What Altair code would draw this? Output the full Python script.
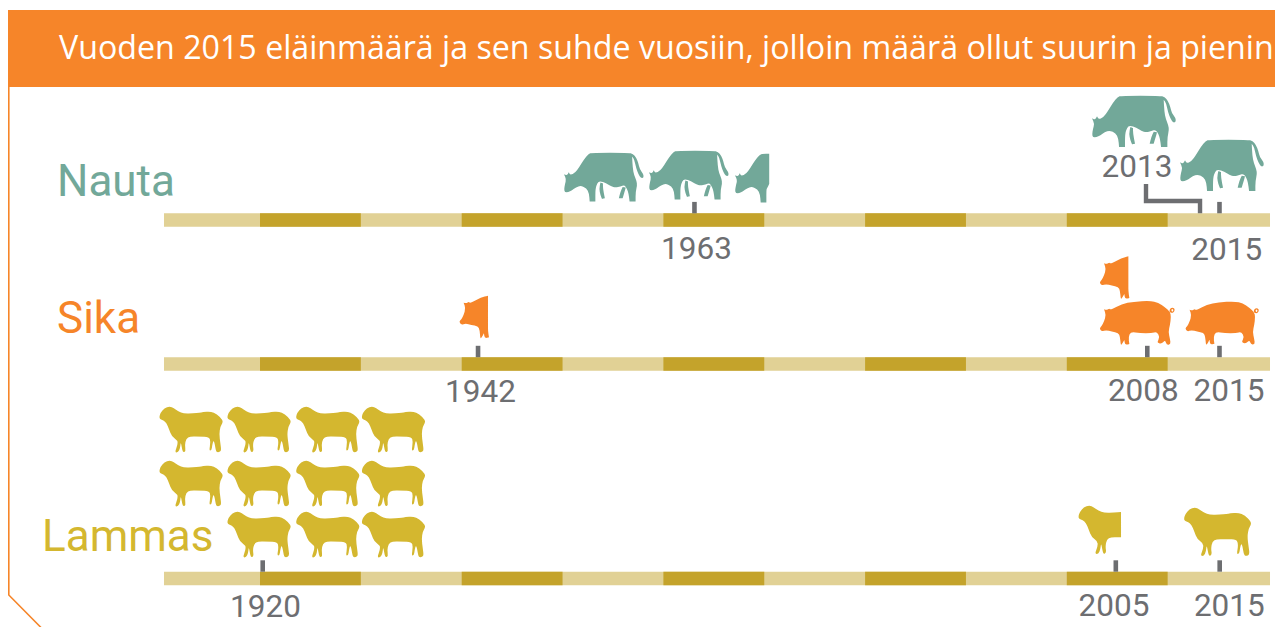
import altair as alt
import pandas as pd

# ---- values ----
TITLE = "Vuoden 2015 eläinmäärä ja sen suhde vuosiin, jolloin määrä ollut suurin ja pienin"
SPECIES = ["Nauta", "Sika", "Lammas"]
NAUTA_YEARS = ["1963", "2013", "2015"]
NAUTA_COUNTS = [2.5, 1, 1]
SIKA_YEARS = ["1942", "2008", "2015"]
SIKA_COUNTS = [0.5, 1.5, 1]
LAMMAS_YEARS = ["1920", "2005", "2015"]
LAMMAS_COUNTS = [11, 0.5, 1]
DECADES_DARK = [1920, 1940, 1960, 1980, 2000]
TIMELINE_START, TIMELINE_END = 1910.48, 2020.15

# ---- layout and style ----
PX_PER_YEAR = 10.085
def yr(px):
    return 1920 + (px - 260) / PX_PER_YEAR

X = alt.Scale(domain=[yr(8), yr(1275)], range=[0, 1267], nice=False, zero=False)
Y = alt.Scale(domain=[8, 627], range=[0, 619], nice=False, zero=False)
FONT = "Roboto"
GRAY = "#6d6e71"
TEAL, ORANGE, GOLD = "#72a899", "#f68529", "#d4b72f"
BAND_DARK, BAND_LIGHT = "#c4a32b", "#e1d195"


def poly(points, cx, cy):
    """Smooth closed outline through the midpoints; a point given twice stays a sharp corner."""
    p = [((x - cx) / 3, (y - cy) / 3) for x, y in points]
    n = len(p)
    mid = lambda a, b: ((a[0] + b[0]) / 2, (a[1] + b[1]) / 2)
    s = mid(p[-1], p[0])
    out = f"M{s[0]:.2f},{s[1]:.2f}"
    for i in range(n):
        m = mid(p[i], p[(i + 1) % n])
        out += f"Q{p[i][0]:.2f},{p[i][1]:.2f},{m[0]:.2f},{m[1]:.2f}"
    return out + "Z"

C2 = (162, 94)
COW_HEAD = [(37,133),(40,115),(44,100),(37,84),(37,84),(46,88),(52,78),(52,78),(57,87),(72,80),(85,62),(100,37),(114,20),(125,16)]
COW_FRONT = [(136,130),(136,170),(136,170),(118,170),(118,170),(116,145),(108,128),(90,120),(75,125),(62,135),(50,141),(40,141)]
COW_REST = [(240,16),(255,20),(265,32),(272,50),(276,68),(287,82),(289,95),(280,97),(272,84),(265,65),(259,38),(252,28),(252,28),
            (254,65),(258,85),(266,105),(268,120),(263,140),(263,170),(263,170),(244,170),(244,170),(241,145),(236,130),(228,118),(215,122),
            (200,126),(185,122),(170,112),(150,105),(142,112)]
COW_LEG1 = [(152,110),(152,110),(148,130),(152,150),(157,162),(157,162),(166,160),(166,160),(160,130),(160,113),(160,113)]
COW_LEG2 = [(222,124),(222,124),(232,126),(232,126),(228,140),(222,160),(222,160),(210,160),(210,160),(215,140)]
COW = poly(COW_HEAD + COW_REST + COW_FRONT, *C2) + poly(COW_LEG1, *C2) + poly(COW_LEG2, *C2)
COW_HALF = poly(COW_HEAD + [(145,16),(145,16),(145,112),(145,112),(138,125)] + COW_FRONT, *C2)

C3 = (170, 219)
PIG_HEAD = [(58,235),(65,228),(72,215),(78,195),(72,178),(72,178),(80,180),(88,175),(92,180),(125,162)]
PIG_FRONT = [(145,262),(148,282),(148,282),(135,285),(133,270),(133,270),(125,284),(122,285),(120,260),(115,248),(95,245),(78,240),(65,245)]
PIG_REST = [(160,155),(210,152),(235,158),(255,172),(270,185),(273,200),(270,225),(265,245),(270,268),(272,283),(260,285),
            (255,270),(245,282),(230,278),(240,262),(230,245),(215,250),(180,250),(152,245)]
PIG_TAIL = [(268,182),(271,175),(277,173),(283,175),(284,181),(281,187),(276,189),(270,187)]
PIG_TAIL_HOLE = [(274,181),(276,185),(279,184),(280,180),(278,177),(275,177)]
PIG = poly(PIG_HEAD + PIG_REST + PIG_FRONT, *C3) + poly(PIG_TAIL, *C3) + poly(PIG_TAIL_HOLE, *C3)
PIG_HALF = poly(PIG_HEAD + [(145,157),(145,157),(145,245)] + PIG_FRONT, *C3)

C5 = (472, 126)
SHEEP_HEAD = [(372,85),(376,72),(388,58),(405,52),(418,58),(432,68),(450,75),(480,74),(500,72)]
SHEEP_REST = [(510,70),(535,68),(555,76),(573,95),(573,105),(566,115),(562,140),(566,170),(569,193),(560,198),(552,196),
              (548,170),(544,160),(540,175),(538,191),(530,193),(535,165),(530,148),(500,148)]
SHEEP_FRONT = [(470,147),(457,155),(453,175),(456,194),(447,199),(443,180),(440,165),(438,185),(432,198),(421,198),(430,175),
               (430,160),(412,148),(403,125),(395,105),(385,96),(374,93)]
SHEEP = poly(SHEEP_HEAD + SHEEP_REST + SHEEP_FRONT, *C5)
SHEEP_HALF = poly(SHEEP_HEAD + [(500,72),(500,148),(500,148)] + SHEEP_FRONT, *C5)

SHAPES = {"cow": COW, "cow_half": COW_HALF, "pig": PIG, "pig_half": PIG_HALF, "sheep": SHEEP, "sheep_half": SHEEP_HALF}

# icon key, image anchor x, anchor y, scale
icons = [
    ("cow", 603.6, 177.4, .95), ("cow", 688.6, 175.4, .95), ("cow_half", 774.6, 178.4, .95),
    ("cow", 1133.7, 121.7, 1), ("cow", 1221.7, 165.7, 1),
    ("pig_half", 496.3, 316.3, 1), ("pig", 1136.7, 323, 1), ("pig_half", 1136.7, 277, 1), ("pig", 1221.6, 323.2, .98),
    ("sheep_half", 1111.7, 530, 1), ("sheep", 1217.3, 532, 1),
]
SHEEP_COLS = [190.8, 258.8, 327.5, 393.2]
SHEEP_ROWS = [429.7, 483.7, 534.7]
for r, cy in enumerate(SHEEP_ROWS):
    for c, cx in enumerate(SHEEP_COLS):
        if r == 2 and c == 0:
            continue
        icons.append(("sheep", cx, cy, .945))
COLOR_OF = {"cow": TEAL, "pig": ORANGE, "sheep": GOLD}
icon_df = pd.DataFrame([
    {"icon": k, "x": yr(px), "y": py, "size": 4 * s * s, "color": COLOR_OF[k.split("_")[0]]} for k, px, py, s in icons
])

ROW_TOP = {"Nauta": 213.3, "Sika": 357.2, "Lammas": 571.7}
BAND_H = 13.5
TICK_H = 11.4
bands = []
for sp in SPECIES:
    top = ROW_TOP[sp]
    bands.append({"x": TIMELINE_START, "x2": TIMELINE_END, "y": top, "y2": top + BAND_H, "c": BAND_LIGHT})
    for d in DECADES_DARK:
        bands.append({"x": d, "x2": d + 10, "y": top, "y2": top + BAND_H, "c": BAND_DARK})
band_df = pd.DataFrame(bands)

# tick position in (fractional) years as drawn, label, label centre, baseline
TICK_POS = {
    "Nauta": [1963.08, 2013.21, 2015.14],
    "Sika": [1941.62, 2007.98, 2015.14],
    "Lammas": [1920.27, 2004.86, 2015.16],
}
LABEL_POS = {
    "Nauta": [(696.5, 259.3), (1137, 177.3), (1226.7, 260)],
    "Sika": [(480.5, 401.7), (1143.3, 400.7), (1229, 400.7)],
    "Lammas": [(265.5, 616.7), (1114, 615.7), (1229.3, 615.7)],
}
YEARS = {"Nauta": NAUTA_YEARS, "Sika": SIKA_YEARS, "Lammas": LAMMAS_YEARS}
ticks, labels = [], []
for sp in SPECIES:
    for i, (p, lab) in enumerate(zip(TICK_POS[sp], YEARS[sp])):
        if not (sp == "Nauta" and lab == "2013"):
            ticks.append({"x": p, "y": ROW_TOP[sp] - TICK_H, "y2": ROW_TOP[sp]})
        labels.append({"x": yr(LABEL_POS[sp][i][0]), "y": LABEL_POS[sp][i][1], "t": lab})
tick_df = pd.DataFrame(ticks)
label_df = pd.DataFrame(labels)

connector_df = pd.DataFrame({
    "x": [yr(1146), yr(1146), 2013.21, 2013.21],
    "y": [184, 201, 201, 213.3],
    "o": [0, 1, 2, 3],
})
frame_df = pd.DataFrame({"x": [yr(8.8), yr(8.8), yr(41)], "y": [87, 595, 627.5], "o": [0, 1, 2]})
banner_df = pd.DataFrame({"x": [yr(8)], "x2": [yr(1275)], "y": [10], "y2": [87]})
title_df = pd.DataFrame({"x": [yr(59)], "y": [58.5], "t": [TITLE]})
species_df = pd.DataFrame({
    "x": [yr(57), yr(57), yr(42)], "y": [195.7, 333, 551], "t": SPECIES, "c": [TEAL, ORANGE, GOLD],
})

xe = alt.X("x:Q", scale=X, axis=None)
ye = alt.Y("y:Q", scale=Y, axis=None)

banner = alt.Chart(banner_df).mark_rect(color=ORANGE).encode(xe, alt.X2("x2:Q"), ye, alt.Y2("y2:Q"))
frame = alt.Chart(frame_df).mark_line(color=ORANGE, strokeWidth=1.6).encode(xe, ye, order="o:Q")
title = alt.Chart(title_df).mark_text(align="left", baseline="alphabetic", font="Open Sans", fontSize=32.2, color="white").encode(xe, ye, text="t:N")
band = alt.Chart(band_df).mark_rect().encode(xe, alt.X2("x2:Q"), ye, alt.Y2("y2:Q"), color=alt.Color("c:N", scale=None))
tick = alt.Chart(tick_df).mark_rule(color=GRAY, strokeWidth=4.6).encode(xe, ye, alt.Y2("y2:Q"))
connector = alt.Chart(connector_df).mark_line(color=GRAY, strokeWidth=4.4, strokeJoin="miter").encode(xe, ye, order="o:Q")
label = alt.Chart(label_df).mark_text(align="center", baseline="alphabetic", font=FONT, fontSize=31.5, color=GRAY, fontWeight=400).encode(xe, ye, text="t:N")
species = alt.Chart(species_df).mark_text(align="left", baseline="alphabetic", font=FONT, fontSize=44).encode(xe, ye, text="t:N", color=alt.Color("c:N", scale=None))
icon = alt.Chart(icon_df).mark_point(filled=True, opacity=1, strokeWidth=0).encode(
    xe, ye,
    shape=alt.Shape("icon:N", scale=alt.Scale(domain=list(SHAPES.keys()), range=list(SHAPES.values())), legend=None),
    size=alt.Size("size:Q", scale=None),
    color=alt.Color("color:N", scale=None),
)

chart = alt.layer(banner, frame, title, band, tick, connector, icon, label, species).properties(
    width=1267, height=619, padding=0, background="white", autosize=alt.AutoSizeParams(type="none"),
).configure_view(stroke=None)
chart.save("out.html", embed_options={"renderer": "svg", "actions": False})
